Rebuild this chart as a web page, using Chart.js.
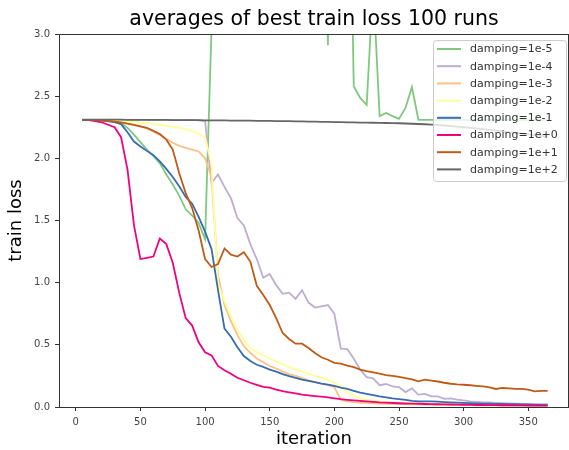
<!DOCTYPE html>
<html>
<head>
<meta charset="utf-8">
<script src="https://cdn.jsdelivr.net/npm/chart.js@4.4.0/dist/chart.umd.min.js"></script>
<style>
  html, body { margin: 0; padding: 0; background: #fff; }
</style>
</head>
<body>
<canvas id="lossChart" width="569" height="450"></canvas>
<script>
// training iterations (x) shared by every run
const iterations = [
  5, 10, 15, 20, 25, 30, 35, 40, 45, 50,
  55, 60, 65, 70, 75, 80, 85, 90, 95, 100,
  105, 110, 115, 120, 125, 130, 135, 140, 145, 150,
  155, 160, 165, 170, 175, 180, 185, 190, 195, 200,
  205, 210, 215, 220, 225, 230, 235, 240, 245, 250,
  255, 260, 265, 270, 275, 280, 285, 290, 295, 300,
  305, 310, 315, 320, 325, 330, 335, 340, 345, 350,
  355, 360, 365
];

const dampingLabels = [
  "damping=1e-5", "damping=1e-4", "damping=1e-3", "damping=1e-2",
  "damping=1e-1", "damping=1e+0", "damping=1e+1", "damping=1e+2"
];

// values above 3.0 run off the top of the plot
const lossDamp1em5 = [
  2.31, 2.31, 2.308, 2.305, 2.30, 2.295, 2.285, 2.245, 2.19, 2.13,
  2.07, 2.02, 1.96, 1.87, 1.79, 1.70, 1.59, 1.54, 1.48, 1.35,
  3.05, 5.2, 6.0, 6.4, 6.8, 7.0, 7.3, 7.1, 7.5, 7.8,
  7.6, 7.9, 8.1, 7.7, 7.4, 7.0, 6.2, 5.0, 2.91, 5.6,
  6.2, 5.5, 2.58, 2.486, 2.43, 3.4, 2.34, 2.365, 2.34, 2.317,
  2.405, 2.574, 2.31, 2.31, 2.31, 2.31, 2.31, 2.31, 2.31, 2.31,
  2.31, 2.31, 2.31, 2.31, 2.31, 2.31, 2.31, 2.31, 2.31, 2.31,
  2.31, 2.31, 2.31
];
const lossDamp1em4 = [
  2.31, 2.31, 2.31, 2.31, 2.31, 2.31, 2.31, 2.31, 2.31, 2.31,
  2.31, 2.31, 2.31, 2.31, 2.31, 2.31, 2.31, 2.31, 2.305, 2.30,
  1.80, 1.87, 1.77, 1.68, 1.52, 1.46, 1.31, 1.19, 1.04, 1.07,
  0.98, 0.91, 0.92, 0.87, 0.94, 0.84, 0.80, 0.81, 0.82, 0.75,
  0.47, 0.465, 0.39, 0.30, 0.24, 0.23, 0.175, 0.185, 0.165, 0.16,
  0.12, 0.15, 0.10, 0.105, 0.085, 0.085, 0.065, 0.07, 0.06, 0.053,
  0.046, 0.042, 0.038, 0.036, 0.033, 0.03, 0.028, 0.026, 0.024, 0.022,
  0.02, 0.019, 0.018
];
const lossDamp1em3 = [
  2.31, 2.31, 2.308, 2.305, 2.30, 2.295, 2.29, 2.28, 2.27, 2.255,
  2.24, 2.215, 2.19, 2.155, 2.125, 2.10, 2.085, 2.07, 2.055, 2.00,
  1.85, 1.06, 0.82, 0.69, 0.58, 0.49, 0.435, 0.39, 0.36, 0.33,
  0.31, 0.285, 0.265, 0.25, 0.233, 0.215, 0.20, 0.187, 0.175, 0.16,
  0.058, 0.045, 0.04, 0.036, 0.033, 0.03, 0.028, 0.026, 0.025, 0.024,
  0.023, 0.022, 0.021, 0.02, 0.019, 0.018, 0.017, 0.016, 0.016, 0.015,
  0.015, 0.014, 0.014, 0.013, 0.013, 0.012, 0.012, 0.012, 0.011, 0.011,
  0.011, 0.01, 0.01
];
const lossDamp1em2 = [
  2.31, 2.31, 2.31, 2.308, 2.306, 2.303, 2.30, 2.297, 2.293, 2.288,
  2.283, 2.277, 2.27, 2.262, 2.255, 2.245, 2.235, 2.22, 2.20, 2.17,
  1.95, 0.99, 0.85, 0.73, 0.62, 0.54, 0.475, 0.44, 0.415, 0.39,
  0.365, 0.345, 0.32, 0.30, 0.287, 0.268, 0.25, 0.235, 0.22, 0.195,
  0.168, 0.115, 0.09, 0.072, 0.06, 0.052, 0.045, 0.04, 0.037, 0.034,
  0.032, 0.03, 0.028, 0.026, 0.025, 0.024, 0.023, 0.022, 0.021, 0.02,
  0.02, 0.019, 0.018, 0.018, 0.017, 0.017, 0.016, 0.016, 0.015, 0.015,
  0.015, 0.014, 0.014
];
const lossDamp1em1 = [
  2.31, 2.31, 2.308, 2.305, 2.30, 2.292, 2.275, 2.21, 2.135, 2.095,
  2.06, 2.025, 1.975, 1.915, 1.85, 1.775, 1.69, 1.635, 1.53, 1.41,
  1.27, 0.94, 0.63, 0.565, 0.48, 0.41, 0.37, 0.34, 0.322, 0.30,
  0.285, 0.265, 0.248, 0.235, 0.22, 0.21, 0.20, 0.188, 0.18, 0.17,
  0.155, 0.145, 0.13, 0.115, 0.105, 0.095, 0.085, 0.078, 0.07, 0.064,
  0.058, 0.05, 0.046, 0.045, 0.045, 0.043, 0.04, 0.038, 0.035, 0.033,
  0.031, 0.029, 0.027, 0.026, 0.025, 0.024, 0.023, 0.022, 0.021, 0.02,
  0.019, 0.019, 0.018
];
const lossDamp1e0 = [
  2.31, 2.308, 2.30, 2.29, 2.27, 2.25, 2.17, 1.91, 1.46, 1.19,
  1.20, 1.21, 1.355, 1.31, 1.16, 0.92, 0.715, 0.655, 0.52, 0.44,
  0.415, 0.33, 0.295, 0.268, 0.235, 0.215, 0.195, 0.178, 0.162, 0.155,
  0.14, 0.127, 0.118, 0.11, 0.10, 0.094, 0.088, 0.083, 0.078, 0.07,
  0.063, 0.058, 0.053, 0.049, 0.045, 0.041, 0.037, 0.035, 0.032, 0.03,
  0.028, 0.027, 0.026, 0.024, 0.023, 0.022, 0.021, 0.02, 0.019, 0.018,
  0.017, 0.016, 0.016, 0.015, 0.015, 0.014, 0.014, 0.013, 0.013, 0.012,
  0.012, 0.011, 0.011
];
const lossDamp1e1 = [
  2.31, 2.31, 2.308, 2.305, 2.30, 2.295, 2.29, 2.28, 2.27, 2.258,
  2.245, 2.222, 2.195, 2.15, 2.07, 1.88, 1.72, 1.60, 1.42, 1.19,
  1.126, 1.15, 1.275, 1.225, 1.21, 1.245, 1.17, 0.975, 0.90, 0.82,
  0.715, 0.595, 0.547, 0.509, 0.509, 0.474, 0.434, 0.40, 0.38, 0.355,
  0.348, 0.333, 0.32, 0.30, 0.288, 0.279, 0.268, 0.257, 0.25, 0.242,
  0.233, 0.222, 0.206, 0.22, 0.213, 0.205, 0.195, 0.187, 0.182, 0.179,
  0.175, 0.17, 0.166, 0.158, 0.145, 0.153, 0.15, 0.145, 0.145, 0.14,
  0.126, 0.13, 0.13
];
const lossDamp1e2 = [
  2.312, 2.312, 2.312, 2.311, 2.311, 2.311, 2.311, 2.31, 2.31, 2.31,
  2.31, 2.309, 2.309, 2.309, 2.308, 2.308, 2.308, 2.307, 2.307, 2.306,
  2.306, 2.305, 2.305, 2.304, 2.304, 2.303, 2.303, 2.302, 2.302, 2.301,
  2.30, 2.30, 2.299, 2.298, 2.297, 2.296, 2.295, 2.294, 2.293, 2.292,
  2.291, 2.29, 2.289, 2.288, 2.287, 2.286, 2.285, 2.284, 2.283, 2.282,
  2.28, 2.278, 2.276, 2.274, 2.271, 2.268, 2.264, 2.26, 2.255, 2.25,
  2.245, 2.24, 2.235, 2.229, 2.223, 2.217, 2.211, 2.205, 2.199, 2.193,
  2.187, 2.181, 2.175
];

const xTickValues = [0, 50, 100, 150, 200, 250, 300, 350];
const yTickValues = [0, 0.5, 1.0, 1.5, 2.0, 2.5, 3.0];

const lossSeries = [
  lossDamp1em5, lossDamp1em4, lossDamp1em3, lossDamp1em2,
  lossDamp1em1, lossDamp1e0, lossDamp1e1, lossDamp1e2
];
// matplotlib "Accent" colours
const lineColors = [
  "#7fc97f", "#beaed4", "#fdc086", "#ffff99",
  "#386cb0", "#f0027f", "#bf5b17", "#666666"
];

const FONT = "'DejaVu Sans', 'Liberation Sans', sans-serif";

// top/right spines, like a matplotlib axes box
const axesFrame = {
  id: "axesFrame",
  afterDatasetsDraw(chart) {
    const { ctx, chartArea: a } = chart;
    ctx.save();
    ctx.strokeStyle = "#333";
    ctx.lineWidth = 1;
    ctx.beginPath();
    ctx.moveTo(a.left, a.top + 0.5);
    ctx.lineTo(a.right, a.top + 0.5);
    ctx.moveTo(a.right - 0.5, a.top);
    ctx.lineTo(a.right - 0.5, a.bottom);
    ctx.stroke();
    ctx.restore();
  }
};

// legend box inside the upper right corner
const boxLegend = {
  id: "boxLegend",
  afterDraw(chart) {
    const { ctx, chartArea: a } = chart;
    const w = 133, h = 141;
    const x = a.right - 3 - w, y = a.top + 6;
    ctx.save();
    ctx.beginPath();
    ctx.roundRect(x + 0.5, y + 0.5, w, h, 3);
    ctx.fillStyle = "rgba(255,255,255,0.8)";
    ctx.fill();
    ctx.strokeStyle = "#cccccc";
    ctx.lineWidth = 1;
    ctx.stroke();
    ctx.font = "11px " + FONT;
    ctx.textBaseline = "middle";
    ctx.textAlign = "left";
    chart.data.datasets.forEach((ds, i) => {
      const cy = y + 9 + i * 17.2;
      ctx.strokeStyle = ds.borderColor;
      ctx.lineWidth = 2;
      ctx.beginPath();
      ctx.moveTo(x + 4, cy);
      ctx.lineTo(x + 28, cy);
      ctx.stroke();
      ctx.fillStyle = "#333";
      ctx.fillText(ds.label, x + 37, cy + 0.5);
    });
    ctx.restore();
  }
};

const datasets = lossSeries.map((series, i) => ({
  label: dampingLabels[i],
  data: iterations.map((it, j) => ({ x: it, y: series[j] })),
  borderColor: lineColors[i],
  backgroundColor: lineColors[i],
  borderWidth: 1.8,
  pointRadius: 0,
  tension: 0,
  fill: false,
  order: lossSeries.length - 1 - i
}));

new Chart(document.getElementById("lossChart"), {
  type: "line",
  data: { datasets: datasets },
  options: {
    responsive: false,
    animation: false,
    layout: { padding: 0 },
    plugins: {
      legend: { display: false },
      tooltip: { enabled: false },
      title: {
        display: true,
        text: "averages of best train loss 100 runs",
        fullSize: false,
        color: "#000",
        font: { family: FONT, size: 20.5, weight: "normal" },
        padding: { top: 7.4, bottom: 2 }
      }
    },
    scales: {
      x: {
        type: "linear",
        min: -13,
        max: 381.5,
        z: 1,
        afterBuildTicks: (s) => { s.ticks = xTickValues.map(v => ({ value: v })); },
        afterFit: (s) => { s.height = 43; },
        grid: { display: true, drawOnChartArea: false, drawTicks: true, tickLength: 4, color: "#333" },
        border: { display: true, color: "#333", width: 1 },
        ticks: { color: "#444", font: { family: FONT, size: 10 }, padding: 5, maxRotation: 0 },
        title: {
          display: true, text: "iteration", color: "#000",
          font: { family: FONT, size: 18 }, padding: { top: 0, bottom: 0 }
        }
      },
      y: {
        min: 0,
        max: 3,
        z: 1,
        afterBuildTicks: (s) => { s.ticks = yTickValues.map(v => ({ value: v })); },
        afterFit: (s) => { s.width = 59; },
        grid: { display: true, drawOnChartArea: false, drawTicks: true, tickLength: 4, color: "#333" },
        border: { display: true, color: "#333", width: 1 },
        ticks: {
          color: "#444", font: { family: FONT, size: 10 }, padding: 5,
          callback: (v) => Number(v).toFixed(1)
        },
        title: {
          display: true, text: "train loss", color: "#000",
          font: { family: FONT, size: 18 }, padding: { top: 5.7, bottom: 0 }
        }
      }
    }
  },
  plugins: [axesFrame, boxLegend]
});
</script>
</body>
</html>
